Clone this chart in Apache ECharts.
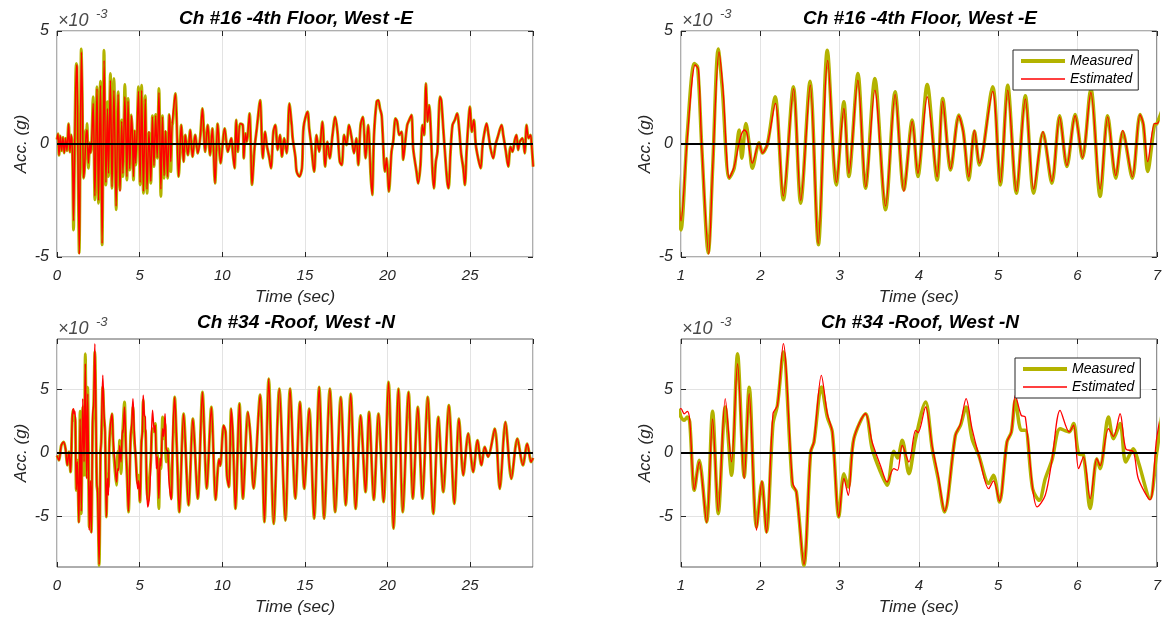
<!DOCTYPE html>
<html>
<head>
<meta charset="utf-8">
<script src="https://cdn.jsdelivr.net/npm/echarts@6/dist/echarts.min.js"></script>
<style>
html, body { margin: 0; padding: 0; background: #fff; }
#chart { width: 1164px; height: 622px; }
</style>
</head>
<body>
<div id="chart"></div>
<script>
// Ch #16, measured: [time (sec), acc (x1e-3 g)]
var m16 = [
  [0,0.2],[0.06,0.45],[0.12,-0.5],[0.2,0.35],[0.28,-0.3],[0.36,0.3],[0.44,-0.4],[0.52,0.25],[0.6,-0.3],[0.7,0.9],[0.78,-0.35],[0.86,0.4],[0.93,-0.3],
  [1.0,-3.8],[1.08,0.5],[1.168,3.56],[1.21,3.4],[1.26,0],[1.344,-4.82],[1.40,-1],[1.47,4.2],[1.52,2.5],[1.608,-1.51],[1.671,-1.07],[1.734,0.62],[1.767,-0.63],[1.818,0.91],[1.86,0],[1.90,-1.07],[1.985,0.05],[2.027,-0.4],[2.09,0],
  [2.187,2.09],[2.291,-2.47],[2.417,2.53],[2.509,-2.62],[2.627,2.78],[2.732,-4.46],[2.845,4.15],[2.958,-1.81],[3.054,1.87],[3.117,-1.44],[3.231,3.12],[3.327,-1.96],[3.444,2.9],[3.579,-2.91],[3.70,2.31],[3.81,-2.03],[3.916,1.06],[3.987,-1.44],
  [4.105,2.63],[4.23,-1.59],[4.30,2.01],[4.40,-1.15],[4.503,1.28],[4.56,0.54],[4.629,-1.59],[4.70,0.57],[4.763,-0.93],[4.93,2.53],[5.027,-1.81],[5.12,2.6],[5.229,-2.18],[5.342,2.13],[5.447,-2.18],[5.564,0.51],[5.677,-1.74],[5.774,1.25],[5.866,-1.0],[5.97,1.31],
  [6.063,-0.63],[6.168,2.46],[6.285,-2.32],[6.38,1.25],[6.482,-1.51],[6.57,0.54],[6.692,-1.51],[6.788,1.31],[6.83,0.84],[6.885,-1.22],[6.97,0.84],[7.0,0.9],
  [7.16,2.24],[7.36,-1.44],[7.52,0.84],[7.66,-0.78],[7.76,0.4],[7.92,-0.49],[8.06,0.62],[8.2,-0.56],[8.36,0.4],[8.52,-0.41],[8.66,0.25],[8.8,1.57],[8.96,-0.34],[9.12,0.84],[9.26,-0.5],[9.4,0.69],[9.56,-1.74],[9.72,0.9],[9.9,-0.85],
  [10.14,0.69],[10.34,-0.34],[10.54,0.25],[10.64,-0.41],[10.74,-1.07],[10.84,1.06],[10.94,-0.34],[11.08,0.9],[11.24,0.84],[11.30,-0.63],[11.4,0.47],[11.48,0.1],[11.65,1.35],[11.8,-1.8],[11.95,-0.2],[12.09,0.69],[12.29,1.94],[12.45,-0.63],[12.59,0.54],[12.69,-0.04],[12.85,-0.63],[12.95,-1.07],
  [13.09,0.54],[13.21,0.84],[13.35,-0.26],[13.49,0.4],[13.61,-0.56],[13.75,0.25],[13.9,-0.41],[14.06,1.79],[14.2,0.84],[14.26,0.25],[14.42,-0.56],[14.5,-1.22],[14.66,-1.44],[14.82,-1.07],[14.92,0.76],[15.16,1.43],[15.26,0.69],[15.36,0.1],[15.56,-1.22],[15.7,0.4],[15.86,-0.34],
  [16.06,0.99],[16.22,-1.0],[16.36,0.1],[16.5,-0.63],[16.67,0.4],[16.83,1.2],[16.97,0.54],[17.11,-0.78],[17.23,-0.93],[17.37,0.4],[17.51,-0.04],[17.67,0.84],[17.83,0.25],[17.97,-0.41],[18.11,0.25],[18.23,-0.93],[18.37,0.84],[18.51,1.2],[18.67,-0.63],[18.83,0.84],[18.98,-1.37],
  [19.07,-2.25],[19.18,0.4],[19.34,1.87],[19.44,1.94],[19.54,1.57],[19.64,1.28],[19.7,0.54],[19.84,-1.22],[19.94,-0.63],[20.08,-2.1],[20.24,-0.34],[20.34,0.1],[20.48,1.13],[20.58,0.99],[20.71,0.4],[20.85,0.54],[20.95,-0.7],[21.05,-0.04],[21.19,0.84],[21.31,1.06],[21.45,1.28],
  [21.55,-0.19],[21.75,-1.22],[21.85,-1.74],[21.99,-0.93],[22.11,0.84],[22.21,0.4],[22.32,2.68],[22.42,0.99],[22.52,1.72],[22.62,0.54],[22.72,-1.22],[22.8,-1.96],[22.92,-0.78],[23.02,-0.34],[23.17,2.09],[23.25,1.94],[23.37,0.69],[23.47,-0.34],[23.61,-1.66],[23.69,-1.96],
  [23.81,-0.34],[23.93,0.84],[24.07,1.06],[24.21,1.35],[24.33,0.69],[24.45,-0.41],[24.58,-1.07],[24.68,-1.81],[24.78,-0.34],[24.88,0.84],[24.98,1.65],[25.1,0.54],[25.22,1.06],[25.34,-0.04],[25.48,-0.63],[25.63,-1.07],[25.75,-0.04],[25.87,0.54],[25.99,0.91],
  [26.11,0.4],[26.23,-0.19],[26.39,-0.63],[26.53,-0.04],[26.67,0.32],[26.9,0.84],[27.0,0.4],[27.16,-0.34],[27.3,-1.0],[27.44,-0.12],[27.56,-0.34],[27.7,0.18],[27.8,0.4],[27.9,-0.26],[28.0,0.1],[28.16,0.25],[28.3,-0.41],[28.41,0.84],[28.53,0.25],[28.65,0.4],[28.71,0.03],[28.81,-1.0]
];
// Ch #16, estimated, 1-7 sec (elsewhere it lies on the measured trace)
var e16 = [
  [1.0,-3.4],[1.08,0.3],[1.18,3.5],[1.22,3.3],[1.26,0],[1.35,-4.87],[1.40,-1],[1.48,4.07],[1.53,2.4],[1.61,-1.5],[1.67,-1.0],[1.75,0.3],[1.80,0.62],[1.83,0.5],[1.9,-0.85],[1.985,0.05],[2.027,-0.4],[2.09,0],
  [2.19,1.8],[2.29,-2.3],[2.42,2.45],[2.51,-2.5],[2.63,2.6],[2.73,-4.4],[2.85,3.7],[2.96,-1.7],[3.054,1.57],[3.117,-1.3],[3.23,2.82],[3.33,-1.9],[3.444,2.38],[3.579,-2.75],[3.70,2.2],[3.81,-2.1],[3.916,1.0],[3.987,-1.3],
  [4.105,2.09],[4.23,-1.45],[4.30,1.9],[4.40,-1.1],[4.503,1.25],[4.56,0.5],[4.629,-1.45],[4.70,0.6],[4.763,-0.85],[4.93,2.33],[5.027,-1.7],[5.12,2.38],[5.229,-2.1],[5.342,2.0],[5.447,-2.0],[5.564,0.55],[5.677,-1.65],[5.774,1.2],[5.866,-0.95],[5.97,1.25],
  [6.063,-0.6],[6.168,2.28],[6.285,-2.0],[6.38,1.2],[6.482,-1.4],[6.57,0.6],[6.692,-1.45],[6.788,1.3],[6.83,0.9],[6.885,-0.78],[6.97,0.9],[7.0,0.9]
];
// Ch #34, measured
var m34 = [
  [0,-0.2],[0.12,-0.58],[0.26,0.6],[0.4,0.87],[0.52,0.3],[0.62,-0.97],[0.72,0.1],[0.82,-1.5],[0.92,2.7],[0.97,3.4],
  [1.0,2.84],[1.04,2.58],[1.08,2.84],[1.11,2.45],[1.168,-2.95],[1.23,-0.58],[1.323,-5.45],[1.398,3.3],[1.47,-4.79],[1.558,3.63],[1.637,-1.76],[1.713,7.84],[1.797,-1.9],[1.86,5.2],[1.952,-5.84],[2.02,-2.29],[2.078,-6.24],
  [2.16,2.3],[2.216,3.76],[2.29,7.97],[2.405,-2.55],[2.455,-3.08],[2.55,-8.87],[2.635,0.08],[2.677,0.87],[2.77,5.21],[2.845,2.84],[2.908,1.66],[2.99,-5.05],[3.054,-1.63],[3.109,-2.68],[3.18,1.13],[3.327,3.1],[3.41,0.34],[3.516,-1.5],[3.6,-2.55],
  [3.683,0.13],[3.73,-0.4],[3.79,1.0],[3.874,-1.63],[3.958,1.13],[4.084,4.03],[4.168,0.34],[4.243,-2.03],[4.323,-4.66],[4.46,1.39],[4.524,2.18],[4.595,3.63],[4.67,1.13],[4.755,-0.18],[4.88,-2.4],[4.94,-1.76],[5.015,-3.87],
  [5.11,0.87],[5.166,1.66],[5.216,4.16],[5.29,1.79],[5.342,1.8],[5.434,-2.82],[5.518,-3.74],[5.593,-2.03],[5.677,-0.58],[5.78,1.92],[5.895,1.66],[5.95,2.32],[6.013,-0.05],[6.075,-0.18],[6.16,-4.39],[6.243,-0.45],[6.285,-1.24],
  [6.39,2.84],[6.453,1.13],[6.537,2.32],[6.608,-0.71],[6.704,0.34],[6.767,-0.71],[6.914,-3.6],[7.0,0.08],
  [7.12,4.42],[7.26,0],[7.4,-4.66],[7.66,3.1],[7.96,-4.13],[8.22,2.7],[8.52,-3.6],[8.8,4.82],[9.06,-2.8],[9.34,3.63],[9.6,-3.7],[9.8,-0.5],[9.88,-1.0],[10.08,2.18],[10.2,1.65],[10.28,-1.76],[10.4,-2.68],[10.54,3.5],[10.64,1.4],[10.8,-4.4],
  [11.04,3.9],[11.25,-3.6],[11.55,3.24],[11.7,1.4],[11.89,-2.8],[12.29,4.6],[12.55,-5.45],[12.81,5.87],[13.11,-5.58],[13.45,5.08],[13.82,-5.32],[14.1,5.08],[14.42,-3.6],[14.7,4.03],[14.96,-2.82],[15.26,3.5],[15.56,-5.18],[15.86,5.21],
  [16.16,-5.18],[16.51,5.08],[16.83,-4.66],[17.17,4.42],[17.47,-4.13],[17.77,4.68],[18.07,-4.4],[18.37,2.97],[18.67,-3.08],[18.88,3.24],[19.17,-3.7],[19.45,3.1],[19.76,-3.87],[20.06,5.6],[20.36,-5.97],[20.66,5.08],[20.92,-4.66],
  [21.27,4.82],[21.53,-3.6],[21.83,3.63],[22.11,-3.6],[22.43,4.42],[22.77,-4.79],[23.07,2.84],[23.37,-3.08],[23.71,3.76],[24.04,-4.0],[24.32,2.7],[24.58,-1.76],[24.88,1.53],[25.18,-1.5],[25.44,1.0],[25.68,-0.97],[25.88,0.47],[26.08,-0.3],
  [26.49,1.92],[26.79,-2.82],[27.13,2.45],[27.49,-2.03],[27.85,1.13],[28.19,-0.97],[28.45,0.74],[28.69,-0.71],[28.8,-0.4]
];
// Ch #34, estimated, 1-7 sec
var e34 = [
  [1.0,3.5],[1.04,3.1],[1.08,3.29],[1.11,2.6],[1.168,-2.9],[1.23,-0.7],[1.323,-5.5],[1.398,2.7],[1.47,-4.6],[1.558,4.29],[1.637,-0.7],[1.713,7.05],[1.797,-2.03],[1.86,4.68],[1.952,-6.1],[2.02,-2.2],[2.078,-6.3],
  [2.16,3.1],[2.216,3.76],[2.29,8.63],[2.405,-2.3],[2.455,-3.1],[2.55,-8.8],[2.635,0.1],[2.677,0.9],[2.77,6.13],[2.845,3.1],[2.908,1.66],[2.99,-5.05],[3.054,-2.0],[3.109,-3.34],[3.18,1.13],[3.327,3.1],[3.41,0.87],[3.516,-1.0],[3.6,-2.29],
  [3.683,-1.24],[3.73,-1.37],[3.79,0.6],[3.874,-0.71],[3.958,1.79],[3.99,1.6],[4.084,3.63],[4.168,0.5],[4.243,-1.8],[4.323,-4.6],[4.46,1.39],[4.524,2.3],[4.595,4.29],[4.67,1.92],[4.755,-0.18],[4.88,-2.82],[4.94,-2.2],[5.015,-3.8],
  [5.11,0.87],[5.166,1.66],[5.216,4.55],[5.29,2.97],[5.342,2.84],[5.434,-2.82],[5.49,-4.26],[5.593,-3.34],[5.677,-0.58],[5.78,3.37],[5.895,1.66],[5.95,2.2],[6.013,-1.24],[6.075,-0.3],[6.16,-3.6],[6.243,-0.45],[6.285,-1.0],
  [6.39,1.92],[6.453,1.3],[6.537,3.1],[6.608,0.34],[6.704,0.1],[6.767,-2.03],[6.914,-3.7],[7.0,1.26]
];
var yTicks = [-5, 0, 5];
var titles = ['Ch #16 -4th Floor, West -E', 'Ch #34 -Roof, West -N'];
var legendNames = ['Measured', 'Estimated'];

// estimated trace over the whole record: measured outside the 1-7 sec window
function fullTrace(m, e) {
  var t0 = e[0][0], t1 = e[e.length - 1][0];
  return m.filter(function (p) { return p[0] < t0; })
    .concat(e, m.filter(function (p) { return p[0] > t1; }));
}

var FONT = '"Liberation Sans", Arial, sans-serif';
var INK = '#262626';
var OLIVE = '#B3B300';

var grids = [
  { left: 57, top: 31, width: 476, height: 226 },
  { left: 681, top: 31, width: 476, height: 226 },
  { left: 57, top: 339, width: 476, height: 228 },
  { left: 681, top: 339, width: 476, height: 228 }
].map(function (g) {
  return Object.assign({ show: true, borderColor: '#5c5c5c', borderWidth: 1, backgroundColor: '#fff' }, g);
});

var tickStyle = { inside: true, length: 5, lineStyle: { color: INK } };
var noLine = { show: false, onZero: false };

function xAx(i, min, max, interval, hideMax) {
  return {
    type: 'value', gridIndex: i, position: 'bottom', min: min, max: max, interval: interval,
    name: 'Time (sec)', nameLocation: 'middle', nameGap: 32,
    nameTextStyle: { fontFamily: FONT, fontStyle: 'italic', fontSize: 17, color: INK },
    axisLine: noLine,
    axisTick: tickStyle,
    axisLabel: { fontFamily: FONT, fontStyle: 'italic', fontSize: 15, color: INK, margin: 11, showMaxLabel: !hideMax },
    splitLine: { show: true, lineStyle: { color: '#e3e3e3' } }
  };
}
// mirrored ticks on the top edge
function xTop(i, min, max, interval) {
  return { type: 'value', gridIndex: i, position: 'top', min: min, max: max, interval: interval,
    axisLine: noLine, axisTick: tickStyle, axisLabel: { show: false }, splitLine: { show: false } };
}
function yAx(i, lim) {
  var a = {
    type: 'value', gridIndex: i, position: 'left', min: -lim, max: lim,
    name: 'Acc. (g)', nameLocation: 'middle', nameGap: 27,
    nameTextStyle: { fontFamily: FONT, fontStyle: 'italic', fontSize: 17, color: INK },
    axisLine: noLine,
    axisTick: Object.assign({}, tickStyle),
    axisLabel: { fontFamily: FONT, fontStyle: 'italic', fontSize: 16, color: INK, margin: 8 },
    splitLine: { show: true, lineStyle: { color: '#e3e3e3' } }
  };
  if (lim === 5) {
    a.interval = 5;
  } else {
    a.axisTick.customValues = yTicks;
    a.axisLabel.customValues = yTicks;
  }
  return a;
}
// mirrored ticks on the right edge
function yRight(i, lim) {
  var a = { type: 'value', gridIndex: i, position: 'right', min: -lim, max: lim,
    axisLine: noLine, axisTick: Object.assign({}, tickStyle), axisLabel: { show: false }, splitLine: { show: false } };
  if (lim === 5) a.interval = 5; else a.axisTick.customValues = yTicks;
  return a;
}

var zeroLine = {
  silent: true, symbol: 'none', label: { show: false },
  lineStyle: { color: '#000', width: 2, type: 'solid' },
  data: [{ yAxis: 0 }]
};

function pair(i, m, e, wide) {
  return [
    { name: 'Measured', type: 'line', xAxisIndex: i, yAxisIndex: i, data: m,
      symbol: 'none', smooth: 0.3, silent: true, z: 2,
      lineStyle: { color: OLIVE, width: wide ? 3.5 : 3 }, itemStyle: { color: OLIVE } },
    { name: 'Estimated', type: 'line', xAxisIndex: i, yAxisIndex: i, data: fullTrace(m, e),
      symbol: 'none', smooth: 0.3, silent: true, z: 3,
      lineStyle: { color: '#ff0000', width: wide ? 1.3 : 1.5 }, itemStyle: { color: '#ff0000' },
      markLine: zeroLine }
  ];
}

function legendAt(left, top) {
  return {
    data: [
      { name: legendNames[0], lineStyle: { width: 4 } },
      { name: legendNames[1], lineStyle: { width: 1.3 } }
    ],
    orient: 'vertical', left: left, top: top,
    padding: [4, 6, 4, 6], itemGap: 4, itemWidth: 44, itemHeight: 14,
    borderColor: INK, borderWidth: 1, borderRadius: 0, backgroundColor: '#fff',
    selectedMode: false,
    itemStyle: { opacity: 0 },
    textStyle: { fontFamily: FONT, fontStyle: 'italic', fontSize: 14, color: '#000' }
  };
}

function label(x, y, text, size, weight) {
  return { type: 'text', x: x, y: y, z: 10,
    style: { text: text, fill: '#000', font: 'italic ' + (weight || 'normal') + ' ' + size + 'px ' + FONT,
      textAlign: 'center', textVerticalAlign: 'middle' } };
}
function expo(x, y) {
  return [
    { type: 'text', x: x, y: y, z: 10,
      style: { text: '\u00d710', fill: '#4a4a4a', font: 'italic 18px ' + FONT, textAlign: 'left', textVerticalAlign: 'middle' } },
    { type: 'text', x: x + 38, y: y - 7, z: 10,
      style: { text: '-3', fill: '#4a4a4a', font: 'italic 13px ' + FONT, textAlign: 'left', textVerticalAlign: 'middle' } }
  ];
}

var chart = echarts.init(document.getElementById('chart'), null, { renderer: 'canvas' });
chart.setOption({
  animation: false,
  backgroundColor: '#fff',
  grid: grids,
  xAxis: [xAx(0, 0, 28.8, 5, true), xAx(1, 1, 7, 1, false), xAx(2, 0, 28.8, 5, true), xAx(3, 1, 7, 1, false),
    xTop(0, 0, 28.8, 5), xTop(1, 1, 7, 1), xTop(2, 0, 28.8, 5), xTop(3, 1, 7, 1)],
  yAxis: [yAx(0, 5), yAx(1, 5), yAx(2, 9), yAx(3, 9),
    yRight(0, 5), yRight(1, 5), yRight(2, 9), yRight(3, 9)],
  legend: [legendAt(1013, 50), legendAt(1015, 358)],
  series: [].concat(pair(0, m16, e16, false), pair(1, m16, e16, true), pair(2, m34, e34, false), pair(3, m34, e34, true)),
  graphic: [
    label(296, 19, titles[0], 19, 'bold'), label(920, 19, titles[0], 19, 'bold'),
    label(296, 323, titles[1], 19, 'bold'), label(920, 323, titles[1], 19, 'bold')
  ].concat(expo(58, 21), expo(682, 21), expo(58, 329), expo(682, 329))
});
</script>
</body>
</html>
